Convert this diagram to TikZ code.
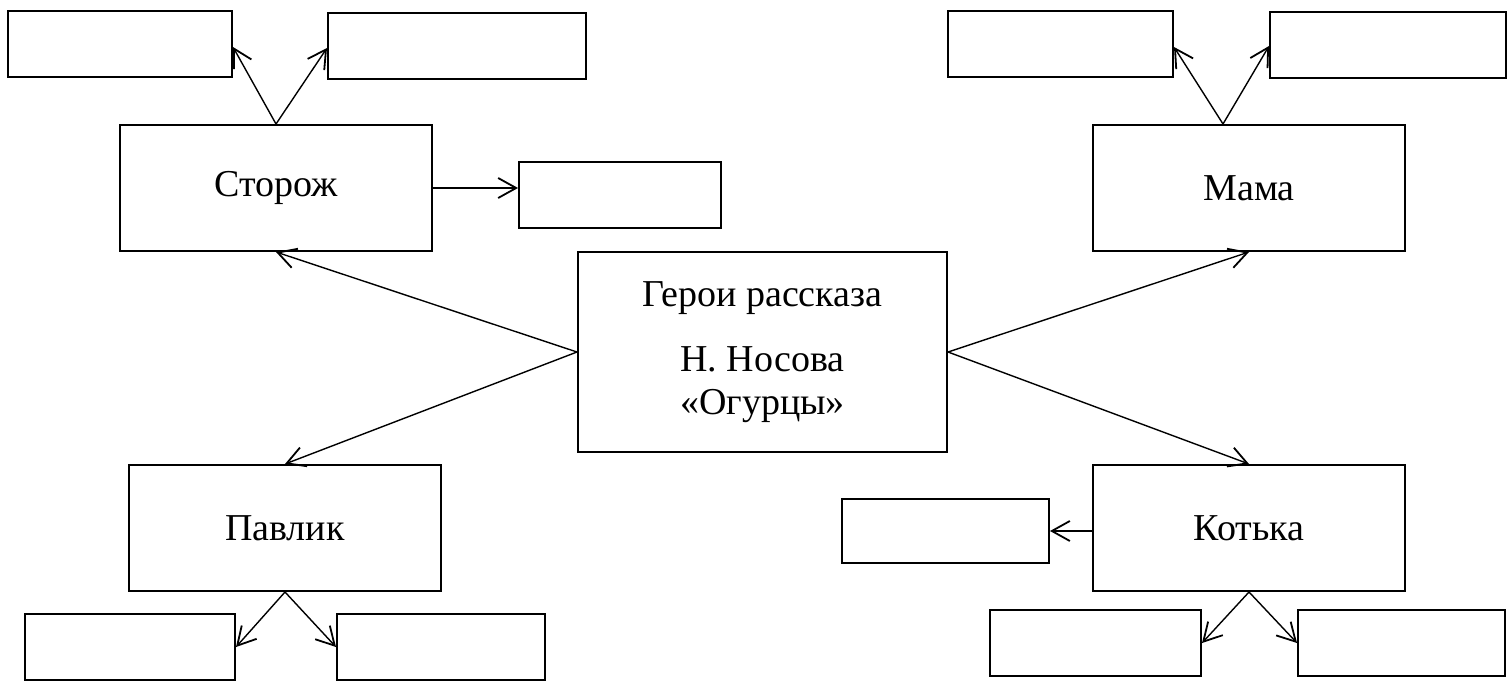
\documentclass[tikz,border=0pt]{standalone}
\usepackage{fontspec}
\setmainfont{Liberation Serif}
\usepackage{tikz}
\usetikzlibrary{arrows.meta}
\tikzset{%
	>={Straight Barb[width=10pt,length=9pt,line width=0.9pt]},
	% Specifications for style of nodes:
	base/.style = {rectangle, draw=black, line width=1pt,
		inner sep=0pt, text centered,
		font=\fontsize{19}{21.5}\selectfont},
	hero/.style = {base, minimum width=156pt, minimum height=63pt},
	title/.style = {base, minimum width=184.5pt, minimum height=100pt, align=center},
	blank/.style = {base, minimum height=33pt},
	link/.style = {->, line width=0.7pt},
}

\begin{document}
\begin{tikzpicture}[x=0.5pt, y=-0.5pt]
\useasboundingbox (0,0) rectangle (1508,680);
%% Specification of nodes (position, etc.)

\node (title)    [title] at (762.5,352) {Герои рассказа\\[11pt]Н. Носова\\«Огурцы»};

\node (strozh)   [hero] at (276,188)  {Сторож};
\node (mama)     [hero] at (1249,188) {Мама};
\node (pavlik)   [hero] at (285,528)  {Павлик};
\node (kotka)    [hero] at (1249,528) {Котька};

\node (strozh1)  [blank, minimum width=112pt]   at (120,44)    {};
\node (strozh2)  [blank, minimum width=129pt]   at (457,46)    {};
\node (strozh3)  [blank, minimum width=101pt]   at (620,195)   {};
\node (mama1)    [blank, minimum width=112.5pt] at (1060.5,44) {};
\node (mama2)    [blank, minimum width=118pt]   at (1388,45)   {};
\node (pavlik1)  [blank, minimum width=105pt]   at (130,647)   {};
\node (pavlik2)  [blank, minimum width=104pt]   at (441,647)   {};
\node (kotka1)   [blank, minimum width=103.5pt, minimum height=32pt] at (945.5,531) {};
\node (kotka2)   [blank, minimum width=105.5pt] at (1095.5,643) {};
\node (kotka3)   [blank, minimum width=103.5pt] at (1401.5,643) {};

%% Specification of lines between nodes specified above
\draw[link]      (title.west) -- (strozh.south);
\draw[link]      (title.west) -- (pavlik.north);
\draw[link]      (title.east) -- (mama.south);
\draw[link]      (title.east) -- (kotka.north);

\draw[link]      (strozh.north) -- ([yshift=-1.5pt]strozh1.east);
\draw[link]      (strozh.north) -- ([yshift=-1pt]strozh2.west);
\draw[link]      (strozh.east) -- (strozh.east -| strozh3.west);

\draw[link]      ([xshift=-13pt]mama.north) -- ([yshift=-1.5pt]mama1.east);
\draw[link]      ([xshift=-13pt]mama.north) -- ([yshift=-0.5pt]mama2.west);

\draw[link]      (pavlik.south) -- (pavlik1.east);
\draw[link]      (pavlik.south) -- (pavlik2.west);

\draw[link]      (kotka.west |- kotka1.east) -- (kotka1.east);
\draw[link]      (kotka.south) -- (kotka2.east);
\draw[link]      (kotka.south) -- (kotka3.west);
\end{tikzpicture}
\end{document}
